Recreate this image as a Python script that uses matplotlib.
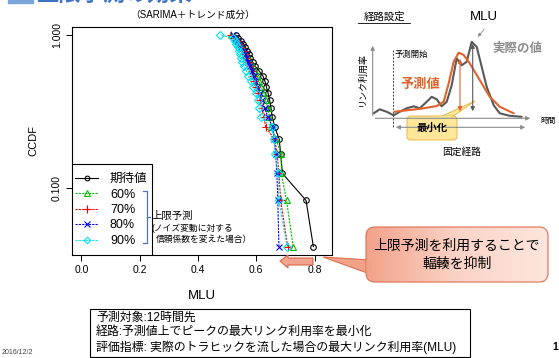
import matplotlib
matplotlib.use('Agg')
import matplotlib.pyplot as plt
import numpy as np
from matplotlib.patches import Rectangle, FancyBboxPatch, Polygon
from matplotlib.colors import LinearSegmentedColormap

plt.rcParams['font.family'] = ['Liberation Sans', 'Noto Sans CJK JP', 'DejaVu Sans']

# CCDF levels (24 samples)
ccdf = [k / 24 for k in range(1, 25)]

# MLU values per series, ordered from ccdf = 1/24 up to 24/24
mlu_expected = [0.796, 0.771, 0.690, 0.684, 0.679, 0.664, 0.655, 0.651, 0.646, 0.641, 0.635, 0.630,
                0.623, 0.610, 0.597, 0.588, 0.580, 0.574, 0.568, 0.563, 0.556, 0.548, 0.538, 0.530]
mlu_60 = [0.727, 0.704, 0.686, 0.686, 0.668, 0.652, 0.645, 0.640, 0.632, 0.625, 0.617, 0.610,
          0.603, 0.596, 0.588, 0.580, 0.572, 0.565, 0.558, 0.552, 0.545, 0.537, 0.527, 0.515]
mlu_70 = [0.708, 0.684, 0.678, 0.672, 0.664, 0.633, 0.626, 0.620, 0.614, 0.606, 0.600, 0.594,
          0.590, 0.585, 0.578, 0.572, 0.566, 0.560, 0.554, 0.548, 0.542, 0.535, 0.525, 0.512]
mlu_80 = [0.678, 0.674, 0.671, 0.667, 0.662, 0.657, 0.640, 0.630, 0.620, 0.612, 0.604, 0.597,
          0.591, 0.586, 0.580, 0.573, 0.566, 0.560, 0.554, 0.548, 0.542, 0.535, 0.528, 0.522]
mlu_90 = [0.706, 0.678, 0.675, 0.666, 0.660, 0.655, 0.615, 0.610, 0.606, 0.598, 0.590, 0.582,
          0.572, 0.566, 0.558, 0.552, 0.548, 0.545, 0.540, 0.536, 0.532, 0.528, 0.522, 0.475]

labels = ['期待値', '60%', '70%', '80%', '90%']
x_ticks = [0.0, 0.2, 0.4, 0.6, 0.8]

# schematic curves (time, link utilisation) for the right-hand illustration
sch_t_actual = [1, 7, 14, 21, 27, 34, 41, 47, 54, 59, 64, 69, 74, 79, 84, 89, 94, 99, 104, 109,
                114, 121, 127, 137, 149]
sch_actual = [5, 9, 6.5, 3, 6.5, 10, 12, 10, 16.5, 21.5, 19, 12, 16.5, 33, 60, 53, 56.5, 76.5,
              71.5, 51.5, 31.5, 13, 5, 2.5, 1.5]
sch_t_pred = [22, 37, 51, 64, 71, 76, 81, 86, 91, 97, 107, 117, 127, 141]
sch_pred = [6.6, 8.3, 10, 12.3, 16.6, 35, 56.6, 65.6, 63.3, 55, 38.3, 21.6, 11.6, 5]

W, H = 559, 358
fig = plt.figure(figsize=(W / 100, H / 100), dpi=100)


def rect(x0, y0, x1, y1):
    # pixel box (top-left origin) -> figure fraction
    return [x0 / W, 1 - y1 / H, (x1 - x0) / W, (y1 - y0) / H]


# ---- main CCDF chart ----
AX_L, AX_T, AX_R, AX_B = 71.7, 26.7, 331.7, 255
ax = fig.add_axes(rect(AX_L, AX_T, AX_R, AX_B))
series = [
    (mlu_expected, 'black', '-', 'o', 4),
    (mlu_60, '#00c000', '--', '^', 5),
    (mlu_70, 'red', '--', '+', 6),
    (mlu_80, 'blue', '--', 'x', 4.5),
    (mlu_90, '#00e5ee', '--', 'D', 4),
]
handles = []
for (vals, col, ls, mk, ms), lab in zip(series, labels):
    h, = ax.plot(vals, ccdf, color=col, lw=0.8, marker=mk, ms=ms,
                 mfc='none', mec=col, mew=0.8, label=lab,
                 ls=(0, (2, 1)) if ls == '--' else '-')
    handles.append(h)

ax.set_yscale('log')
ax.set_xlim(-0.033, 0.859)
ax.set_ylim(0.0367, 1.135)
ax.set_yticks([0.1, 1.0])
ax.set_yticklabels(['0.100', '1.000'], rotation=90, va='center')
ax.yaxis.set_minor_locator(matplotlib.ticker.NullLocator())
ax.set_xticks(x_ticks)
ax.set_xticklabels([f'{v:.1f}' for v in x_ticks])
ax.tick_params(labelsize=7.5, length=4, width=0.7, pad=3)
ax.set_xlabel('MLU', fontsize=9.5, labelpad=11)
ax.set_ylabel('CCDF', fontsize=8, labelpad=10)
for s in ax.spines.values():
    s.set_linewidth(0.8)

# legend box drawn by hand, legend entries without frame
aw, ah = AX_R - AX_L, AX_B - AX_T
ax.add_patch(Rectangle((0, 0), (151.7 - AX_L) / aw, (AX_B - 164) / ah, transform=ax.transAxes,
                       fc='white', ec='black', lw=0.8, zorder=5))
leg = ax.legend(handles=handles, loc='upper left',
                bbox_to_anchor=((75 - AX_L) / aw, (AX_B - 173) / ah), borderaxespad=0,
                frameon=False, fontsize=9, handlelength=1.87, handletextpad=0.93,
                labelspacing=0.28, borderpad=0, numpoints=1, markerscale=0.85)
leg.set_zorder(6)

fig.text(193 / W, 1 - 15 / H, '（SARIMA＋トレンド成分）', ha='center', va='center', fontsize=7)

# ---- overlay in pixel coordinates ----
ov = fig.add_axes([0, 0, 1, 1], zorder=5)
ov.set_xlim(0, W)
ov.set_ylim(H, 0)
ov.axis('off')
ov.patch.set_alpha(0)

# slide title (cut off at top)
ov.add_patch(Rectangle((8, 0), 25, 3, color='#7aa6dc', clip_on=False))
ov.text(36, -4, '上限予測の効果', fontsize=16, color='#3d72c4', ha='left', va='center',
        fontweight='bold')

# bracket + annotation beside legend
bc = '#4f76c4'
ov.plot([143, 147, 147, 143], [191, 191, 243, 243], color=bc, lw=0.9)
ov.plot([147, 150], [217, 217], color=bc, lw=0.9)
ov.text(151, 216, '上限予測', fontsize=7.5, va='center', ha='left')
ov.text(152, 228, '(ノイズ変動に対する', fontsize=6.3, va='center', ha='left')
ov.text(156, 239, '信頼係数を変えた場合）', fontsize=6.3, va='center', ha='left')

# block arrow under the chart
ov.add_patch(Polygon([(280, 261), (288, 255), (288, 258), (313, 258), (313, 265), (288, 265),
                      (288, 268)], closed=True, fc='#f2a58e', ec='#d9694a', lw=0.8))

# callout with horizontal gradient
ov.add_patch(Polygon([(323, 257), (370, 260), (370, 274)], closed=True, fc='#f3a28a',
                     ec='#dd6f50', lw=0.8))
box = FancyBboxPatch((366, 227), 182, 55, boxstyle='round,pad=0,rounding_size=9',
                     fc='none', ec='#dd6f50', lw=0.8, zorder=3)
ov.add_patch(box)
grad = LinearSegmentedColormap.from_list('g', ['#f3a28a', '#fbd3c6', '#fde6de'])
im = ov.imshow(np.linspace(0, 1, 200)[None, :], cmap=grad, aspect='auto',
               extent=(366, 548, 282, 227), zorder=2)
im.set_clip_path(box)
ov.set_xlim(0, W)
ov.set_ylim(H, 0)
ov.add_patch(Polygon([(366.5, 259.5), (372, 260.5), (372, 273.5), (366.5, 273.5)], closed=True,
                     fc='#f3a28a', ec='none', zorder=3))
ov.text(457, 246, '上限予測を利用することで', fontsize=10, ha='center', va='center', zorder=4)
ov.text(457, 264, '輻輳を抑制', fontsize=10, ha='center', va='center', zorder=4)

# bottom info box
ov.add_patch(Rectangle((90, 309), 380, 48, fc='white', ec='black', lw=0.8))
ov.text(96, 318, '予測対象:12時間先', fontsize=8.6, va='center')
ov.text(96, 332, '経路:予測値上でピークの最大リンク利用率を最小化', fontsize=8.6, va='center')
ov.text(96, 347, '評価指標: 実際のトラヒックを流した場合の最大リンク利用率(MLU)', fontsize=8.6,
        va='center')
ov.text(2, 352, '2016/12/2', fontsize=5, va='center', color='#404040')
ov.text(552, 347, '1', fontsize=7.5, va='center', fontweight='bold')

# ---- schematic ----
sx0, sx1, sy0, sy1 = 372.7, 531.7, 118.3, 35.3
sch = fig.add_axes(rect(sx0, sy1, sx1, sy0), zorder=4)
sch.set_xlim(0, sx1 - sx0)
sch.set_ylim(0, sy0 - sy1)
sch.axis('off')
sch.plot(sch_t_actual, sch_actual, color='#595959', lw=1.5, solid_capstyle='round')
sch.plot(sch_t_pred, sch_pred, color='#e2622b', lw=1.5, solid_capstyle='round')

gray = '#8c8c8c'
ov.annotate('', xy=(372.7, 43), xytext=(372.7, 118.3),
            arrowprops=dict(arrowstyle='-|>', color=gray, lw=0.8, mutation_scale=6))
ov.annotate('', xy=(533, 118.3), xytext=(372.7, 118.3),
            arrowprops=dict(arrowstyle='-|>', color=gray, lw=0.8, mutation_scale=6))
ov.plot([392.7, 392.7], [50, 128], color='#404040', lw=0.7, ls=(0, (2, 1.5)))
ov.annotate('', xy=(528, 127.3), xytext=(393, 127.3),
            arrowprops=dict(arrowstyle='<|-|>', color=gray, lw=0.8, mutation_scale=6))
ov.annotate('', xy=(460, 56), xytext=(460, 114),
            arrowprops=dict(arrowstyle='<|-|>', color='#e2622b', lw=0.8, mutation_scale=6))
ov.annotate('', xy=(472.7, 41), xytext=(472.7, 114),
            arrowprops=dict(arrowstyle='<|-|>', color='#595959', lw=0.8, mutation_scale=6))
ov.annotate('', xy=(476, 39), xytext=(486, 27),
            arrowprops=dict(arrowstyle='-|>', color=gray, lw=0.6, mutation_scale=5))

ov.text(384, 17, '経路設定', fontsize=7.5, ha='center', va='center')
ov.plot([358, 410], [23, 23], color='black', lw=0.6)
ov.text(484, 17, 'MLU', fontsize=9.5, ha='center', va='center')
ov.text(517, 49, '実際の値', fontsize=9, ha='center', va='center', color='#8c8c8c',
        fontweight='bold')
ov.text(395, 55, '予測開始', fontsize=6, ha='left', va='center')
ov.text(420, 85, '予測値', fontsize=9.5, ha='center', va='center', color='#e2622b',
        fontweight='bold')
ov.text(362, 80, 'リンク利用率', fontsize=6.5, ha='center', va='center', rotation=90)
ov.text(548, 121, '時間', fontsize=5.5, ha='center', va='center')
ov.text(462, 152, '固定経路', fontsize=7, ha='center', va='center')

# "minimise" balloon
ov.add_patch(Polygon([(440, 117), (452, 117), (475, 101)], closed=True, fc='#ffe79a',
                     ec='#e8b84a', lw=0.7))
ov.add_patch(FancyBboxPatch((407, 116), 50, 24, boxstyle='round,pad=0,rounding_size=4',
                            fc='#ffe79a', ec='#e8b84a', lw=0.7))
ov.add_patch(Rectangle((441, 115.5), 10, 2, fc='#ffe79a', ec='none'))
ov.text(432, 128, '最小化', fontsize=7.5, ha='center', va='center', fontweight='bold')

fig.savefig('out.png', dpi=100)
